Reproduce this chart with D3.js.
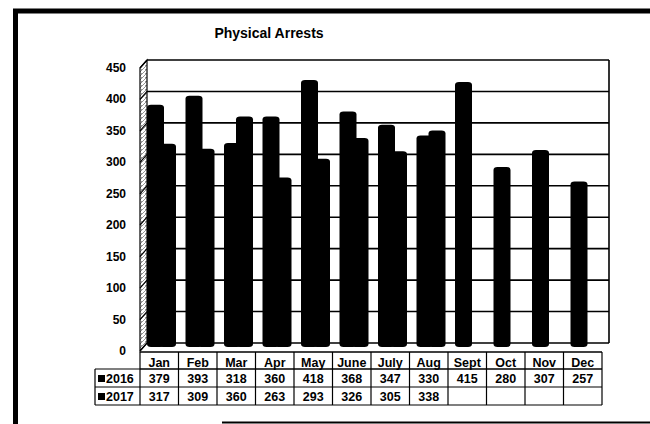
<!DOCTYPE html>
<html>
<head>
<meta charset="utf-8">
<script src="https://cdn.jsdelivr.net/npm/d3@7/dist/d3.min.js"></script>
<style>
  html, body { margin: 0; padding: 0; background: #fff; }
  svg { display: block; }
  .narrow { font-family: 'Liberation Sans Narrow', 'Arial Narrow', 'Liberation Sans', Arial, sans-serif; font-weight: bold; }
  .wide { font-family: 'Liberation Sans', Arial, sans-serif; font-weight: bold; }
</style>
</head>
<body>
<svg id="chart" width="650" height="424"></svg>
<script>
// Monthly physical arrests, 2016 vs 2017
const months = ["Jan", "Feb", "Mar", "Apr", "May", "June", "July", "Aug", "Sept", "Oct", "Nov", "Dec"];
const arrests2016 = [379, 393, 318, 360, 418, 368, 347, 330, 415, 280, 307, 257];
const arrests2017 = [317, 309, 360, 263, 293, 326, 305, 338, null, null, null, null];
const seriesNames = ["2016", "2017"];
const yTicks = [0, 50, 100, 150, 200, 250, 300, 350, 400, 450];

const svg = d3.select("#chart");

// 3D depth offset between the front edge and the back wall
const dx = 7, dy = -8;
const frontLeft = 140, frontRight = 602;
const backZero = 343, backTop = 60;

const y = d3.scaleLinear().domain([0, 450]).range([backZero, backTop]);
const x = d3.scaleBand().domain(months).range([frontLeft, frontRight]);

// Outer frame
svg.append("line").attr("x1", 13).attr("x2", 650).attr("y1", 11).attr("y2", 11)
  .attr("stroke", "#000").attr("stroke-width", 5);
svg.append("line").attr("x1", 15.5).attr("x2", 15.5).attr("y1", 9).attr("y2", 424)
  .attr("stroke", "#000").attr("stroke-width", 5);
svg.append("line").attr("x1", 222).attr("x2", 650).attr("y1", 422.5).attr("y2", 422.5)
  .attr("stroke", "#000").attr("stroke-width", 2);

// Title
svg.append("text").attr("class", "wide")
  .attr("x", 269).attr("y", 38).attr("text-anchor", "middle")
  .attr("font-size", 14).text("Physical Arrests");

// Hatched texture for the side wall
const defs = svg.append("defs");
const pat = defs.append("pattern").attr("id", "wallHatch")
  .attr("patternUnits", "userSpaceOnUse").attr("width", 4).attr("height", 4);
pat.append("rect").attr("width", 4).attr("height", 4).attr("fill", "#fff");
pat.append("path").attr("d", "M0,4 L4,0").attr("stroke", "#777").attr("stroke-width", 0.8);
pat.append("rect").attr("x", 1).attr("y", 1).attr("width", 1).attr("height", 1).attr("fill", "#999");

const backLeft = frontLeft + dx, backRight = frontRight + dx;
const g = svg.append("g");

// Left side wall
g.append("path")
  .attr("d", `M${frontLeft},${y(450) - dy} L${backLeft},${y(450)} L${backLeft},${y(0)} L${frontLeft},${y(0) - dy} Z`)
  .attr("fill", "url(#wallHatch)").attr("stroke", "#000").attr("stroke-width", 1.2);

// Gridlines on the back wall and the side wall
yTicks.forEach(t => {
  g.append("line").attr("x1", backLeft).attr("x2", backRight)
    .attr("y1", y(t)).attr("y2", y(t)).attr("stroke", "#000").attr("stroke-width", 1.6);
  g.append("line").attr("x1", frontLeft).attr("x2", backLeft)
    .attr("y1", y(t) - dy).attr("y2", y(t)).attr("stroke", "#000").attr("stroke-width", 1.2);
});
// Right edge of the back wall
g.append("line").attr("x1", backRight).attr("x2", backRight)
  .attr("y1", y(450)).attr("y2", y(0)).attr("stroke", "#000").attr("stroke-width", 1.6);

// Y axis labels, aligned with the front edge
svg.append("g").selectAll("text").data(yTicks).join("text")
  .attr("class", "wide").attr("font-size", 12)
  .attr("x", 126).attr("y", d => y(d) - dy + 4)
  .attr("text-anchor", "end").text(d => d);

// Bars: column cylinders for each month
const barW = 17;
const barBottom = 347;
const offsets = [7, 19];
[arrests2016, arrests2017].forEach((vals, si) => {
  g.append("g").selectAll("rect")
    .data(months.map((m, i) => ({ m, v: vals[i] })).filter(d => d.v != null))
    .join("rect")
    .attr("x", d => x(d.m) + offsets[si])
    .attr("width", barW)
    .attr("y", d => y(d.v))
    .attr("height", d => barBottom - y(d.v))
    .attr("rx", 4).attr("ry", 3)
    .attr("fill", "#000");
});

// Data table under the plot
const tTop = 352, tHead = 369, tRow1 = 387, tRow2 = 405;
const legendLeft = 95;
const tbl = svg.append("g");
const line = (x1, y1, x2, y2, w = 1.2) =>
  tbl.append("line").attr("x1", x1).attr("y1", y1).attr("x2", x2).attr("y2", y2)
    .attr("stroke", "#000").attr("stroke-width", w);

line(frontLeft, tTop, frontRight, tTop, 1.5);
line(frontLeft, tHead, frontRight, tHead, 1.5);
line(legendLeft, tHead, frontLeft, tHead, 1.2);
line(legendLeft, tRow1, frontRight, tRow1, 1.2);
line(legendLeft, tRow2, frontRight, tRow2, 1.2);
line(legendLeft, tHead, legendLeft, tRow2, 1.2);
months.forEach(m => line(x(m), tTop, x(m), tRow2, 1.2));
line(frontRight, tTop, frontRight, tRow2, 1.2);

tbl.selectAll("text.month").data(months).join("text")
  .attr("class", "narrow month").attr("font-size", 12.5)
  .attr("x", d => x(d) + x.bandwidth() / 2).attr("y", tHead - 2)
  .attr("text-anchor", "middle").text(d => d);

[arrests2016, arrests2017].forEach((vals, si) => {
  const rowBase = (si === 0 ? tRow1 : tRow2) - 4;
  tbl.append("g").selectAll("text").data(months.map((m, i) => ({ m, v: vals[i] })).filter(d => d.v != null))
    .join("text").attr("class", "narrow").attr("font-size", 12.5)
    .attr("x", d => x(d.m) + x.bandwidth() / 2).attr("y", rowBase)
    .attr("text-anchor", "middle").text(d => d.v);
  tbl.append("rect").attr("x", legendLeft + 3).attr("y", rowBase - 8)
    .attr("width", 7).attr("height", 7).attr("fill", "#000");
  tbl.append("text").attr("class", "narrow").attr("font-size", 12.5)
    .attr("x", legendLeft + 11).attr("y", rowBase).text(seriesNames[si]);
});
</script>
</body>
</html>
